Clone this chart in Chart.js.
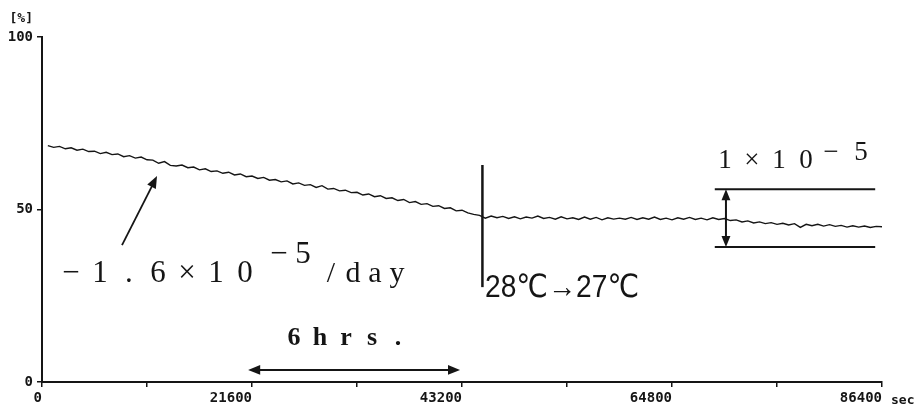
<!DOCTYPE html>
<html>
<head>
<meta charset="utf-8">
<script src="https://cdn.jsdelivr.net/npm/chart.js@4.4.0/dist/chart.umd.min.js"></script>
<style>
  html, body { margin: 0; padding: 0; background: #fff; }
  #wrap { width: 917px; height: 410px; }
</style>
</head>
<body>
<div id="wrap"><canvas id="drift" width="917" height="410"></canvas></div>
<script>
// Recorder trace: one reading every 600 s
const traceStart = 600;
const traceStep = 600;
const traceValues = [
  68.5, 68.0, 68.3, 67.6, 67.9, 67.2, 67.5, 66.8, 66.9, 66.2, 66.6, 65.9,
  66.1, 65.3, 65.6, 64.9, 65.2, 64.4, 64.3, 63.4, 63.9, 62.8, 62.6, 62.9,
  62.1, 62.3, 61.5, 61.8, 61.0, 61.2, 60.5, 60.8, 60.0, 60.3, 59.5, 59.7,
  59.0, 59.3, 58.5, 58.7, 58.0, 58.3, 57.4, 57.7, 57.0, 57.2, 56.4, 56.9,
  55.9, 56.1, 55.4, 55.6, 54.9, 55.0, 54.2, 54.5, 53.7, 54.0, 53.2, 53.4,
  52.6, 52.9, 52.0, 52.3, 51.5, 51.7, 50.9, 51.1, 50.3, 50.5, 49.6, 49.8,
  49.0, 48.6, 48.3, 47.5, 48.1, 47.6, 48.0, 47.4, 47.9, 47.3, 47.8, 47.5,
  48.1, 47.4, 47.7, 47.2, 47.9, 47.3, 47.6, 47.1, 47.8, 47.2, 47.7, 47.0,
  47.6, 47.2, 47.5, 47.2, 47.7, 47.1, 47.6, 47.2, 47.8, 47.1, 47.5, 47.0,
  47.6, 47.2, 47.7, 47.1, 47.5, 47.0, 47.6, 47.1, 47.4, 46.8, 47.0, 46.4,
  46.7, 46.1, 46.4, 45.9, 46.2, 45.7, 46.0, 45.5, 45.9, 44.8, 45.7, 45.3,
  45.7, 45.2, 45.6, 45.1, 45.4, 44.9, 45.3, 44.9, 45.2, 44.8, 45.1, 45.0
];

// Axes
const xMax = 86400;
const xTickStep = 10800;
const xLabelStep = 21600;
const yTickValues = [0, 50, 100];

// Annotations (data units)
const stepChangeX = 45300;
const stepChangeY = [27.5, 62.9];
const bandX = [69200, 85700];
const bandLevels = [55.9, 39.1];
const bandArrowX = 70350;
const sixHrsSpan = [21200, 43000];
const sixHrsY = 3.5;
const slopeArrow = [[8230, 39.7], [11830, 59.7]];

const ink = '#151515';
const tickFont = { family: 'DejaVu Sans Mono', size: 14, weight: 'bold' };

const tracePoints = traceValues.map((v, i) => ({ x: traceStart + i * traceStep, y: v }));

function seg(ctx, x1, y1, x2, y2, w) {
    ctx.lineWidth = w;
    ctx.beginPath();
    ctx.moveTo(x1, y1);
    ctx.lineTo(x2, y2);
    ctx.stroke();
}

function head(ctx, x1, y1, x2, y2, size) {
    const a = Math.atan2(y2 - y1, x2 - x1);
    ctx.beginPath();
    ctx.moveTo(x2, y2);
    ctx.lineTo(x2 - size * Math.cos(a - 0.38), y2 - size * Math.sin(a - 0.38));
    ctx.lineTo(x2 - size * Math.cos(a + 0.38), y2 - size * Math.sin(a + 0.38));
    ctx.closePath();
    ctx.fill();
}

// draw characters centred on a fixed pitch, like the typewriter lettering
function spaced(ctx, text, x, y, pitch) {
    ctx.textAlign = 'center';
    Array.from(text).forEach((ch, i) => ctx.fillText(ch, x + i * pitch, y));
}

const notes = {
    id: 'notes',
    afterDatasetsDraw(chart) {
        const { ctx, scales: { x, y }, chartArea } = chart;
        const X = v => x.getPixelForValue(v);
        const Y = v => y.getPixelForValue(v);
        ctx.save();
        ctx.strokeStyle = ink;
        ctx.fillStyle = ink;
        ctx.lineCap = 'butt';

        // 28 -> 27 degC step marker
        seg(ctx, X(stepChangeX), Y(stepChangeY[1]), X(stepChangeX), Y(stepChangeY[0]), 2.5);

        // 1e-5 band
        seg(ctx, X(bandX[0]), Y(bandLevels[0]), X(bandX[1]), Y(bandLevels[0]), 2);
        seg(ctx, X(bandX[0]), Y(bandLevels[1]), X(bandX[1]), Y(bandLevels[1]), 2);
        const ax = X(bandArrowX), ay1 = Y(bandLevels[0]), ay2 = Y(bandLevels[1]);
        seg(ctx, ax, ay1 + 6, ax, ay2 - 6, 2);
        head(ctx, ax, ay2 - 20, ax, ay1, 12);
        head(ctx, ax, ay1 + 20, ax, ay2, 12);

        // 6 hrs span
        const sx1 = X(sixHrsSpan[0]), sx2 = X(sixHrsSpan[1]), sy = Y(sixHrsY);
        seg(ctx, sx1 + 6, sy, sx2 - 6, sy, 2);
        head(ctx, sx1 + 20, sy, sx1, sy, 13);
        head(ctx, sx2 - 20, sy, sx2, sy, 13);

        // slope arrow
        const p0 = slopeArrow[0], p1 = slopeArrow[1];
        seg(ctx, X(p0[0]), Y(p0[1]), X(p1[0]) - 3, Y(p1[1]) + 6, 1.8);
        head(ctx, X(p0[0]), Y(p0[1]), X(p1[0]), Y(p1[1]), 13);

        ctx.textBaseline = 'alphabetic';

        // slope label
        ctx.font = '31px "Liberation Serif"';
        spaced(ctx, '\u22121.6\u00d710', X(2980), Y(29.0), 29);
        spaced(ctx, '\u22125', X(2980) + 208, Y(34.4), 24);
        ctx.font = '30px "Liberation Serif"';
        spaced(ctx, '/day', X(2980) + 260, Y(29.0), 22);

        // band label
        ctx.font = '27px "Liberation Serif"';
        spaced(ctx, '1\u00d710', X(70250), Y(62.0), 27);
        spaced(ctx, '\u22125', X(70250) + 106, Y(64.3), 30);

        // 6 hrs label
        ctx.font = 'bold 26px "Liberation Serif"';
        spaced(ctx, '6hrs.', X(25920), Y(10.7), 26);

        // temperature label, squeezed to the printed width
        ctx.font = '32px "Liberation Sans", "DejaVu Sans"';
        ctx.textAlign = 'left';
        const tLabel = '28\u2103\u219227\u2103';
        const tw = ctx.measureText(tLabel).width;
        ctx.save();
        ctx.translate(X(45570), Y(24.6));
        ctx.scale(154 / tw, 1);
        ctx.fillText(tLabel, 0, 0);
        ctx.restore();

        // unit labels
        ctx.font = 'bold 13px "DejaVu Sans Mono"';
        ctx.textAlign = 'right';
        ctx.fillText('[%]', chartArea.left - 9, chartArea.top - 15);
        ctx.textAlign = 'left';
        ctx.fillText('sec', chartArea.right + 9, chartArea.bottom + 22);

        ctx.restore();
    }
};

new Chart(document.getElementById('drift'), {
    type: 'line',
    data: {
        datasets: [{
            data: tracePoints,
            borderColor: ink,
            borderWidth: 1.4,
            pointRadius: 0,
            tension: 0,
            fill: false
        }]
    },
    options: {
        responsive: false,
        animation: false,
        layout: { padding: { top: 37, right: 35, left: 0, bottom: 0 } },
        plugins: { legend: { display: false }, tooltip: { enabled: false } },
        scales: {
            x: {
                type: 'linear',
                min: 0,
                max: xMax,
                afterFit: s => { s.height = 28; },
                border: { color: ink, width: 2 },
                grid: { drawOnChartArea: false, tickLength: 5, color: ink, lineWidth: 1.5 },
                ticks: {
                    stepSize: xTickStep,
                    autoSkip: false,
                    maxRotation: 0,
                    align: 'end',
                    padding: 3,
                    color: ink,
                    font: tickFont,
                    callback: v => (v % xLabelStep === 0 ? String(v) : '')
                }
            },
            y: {
                min: 0,
                max: 100,
                afterFit: s => { s.width = 42; },
                border: { color: ink, width: 2 },
                grid: { drawOnChartArea: false, tickLength: 5, color: ink, lineWidth: 1.5 },
                afterBuildTicks: s => { s.ticks = yTickValues.map(v => ({ value: v })); },
                ticks: {
                    padding: 4,
                    color: ink,
                    font: tickFont
                }
            }
        }
    },
    plugins: [notes]
});
</script>
</body>
</html>
